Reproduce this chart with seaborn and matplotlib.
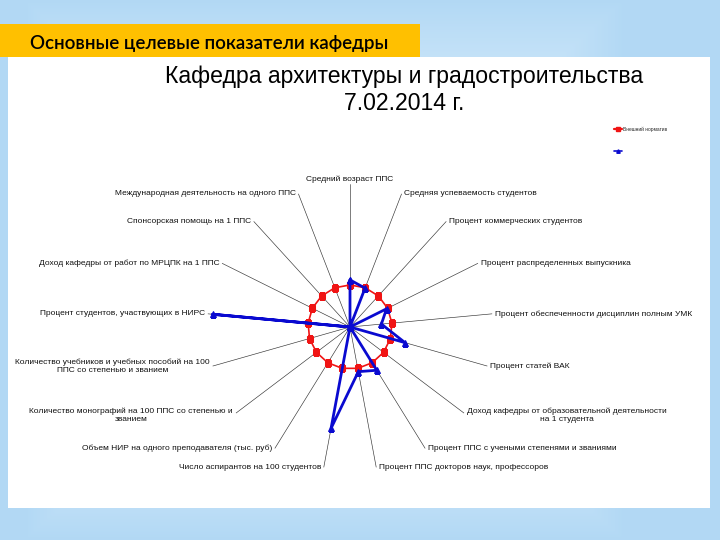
import numpy as np
import pandas as pd
import matplotlib
matplotlib.use("Agg")
import matplotlib.pyplot as plt
import seaborn as sns
from matplotlib.patches import Rectangle
from matplotlib.lines import Line2D

sns.set_theme(style="white")
plt.rcParams['font.family'] = ['Liberation Sans', 'DejaVu Sans']

# ---------------- data ----------------
categories = [
    "Средний возраст ППС",
    "Средняя успеваемость студентов",
    "Процент коммерческих студентов",
    "Процент распределенных выпускника",
    "Процент обеспеченности дисциплин полным УМК",
    "Процент статей ВАК",
    "Доход кафедры от образовательной деятельности\nна 1 студента",
    "Процент ППС с учеными степенями и званиями",
    "Процент ППС докторов наук, профессоров",
    "Число аспирантов на 100 студентов",
    "Объем НИР на одного преподавателя (тыс. руб)",
    "Количество монографий на 100 ППС со степенью и\nзванием",
    "Количество учебников и учебных пособий на 100\nППС со степенью и званием",
    "Процент студентов, участвующих в НИРС",
    "Доход кафедры от работ по МРЦПК на 1 ППС",
    "Спонсорская помощь на 1 ППС",
    "Международная деятельность на одного ППС",
]
norm_values = [1.0] * 17
dept_values = [1.12, 0.99, 0.0, 0.97, 0.75, 1.36, 0.0, 1.21, 1.08, 2.45,
               0.0, 0.0, 0.0, 3.28, 0.0, 0.0, 0.0]
series_names = ["Внешний норматив", " "]
title_line1 = "Кафедра архитектуры и градостроительства"
title_line2 = "7.02.2014 г."
header = "Основные целевые показатели кафедры"

# ---------------- figure / slide ----------------
fig = plt.figure(figsize=(7.2, 5.4), dpi=100)

# background gradient
bg = fig.add_axes([0, 0, 1, 1], zorder=-10)
yy, xx = np.mgrid[0:1:200j, 0:1:200j]
val = np.clip(np.maximum(np.abs(xx - 0.45) * 1.2, np.abs(yy - 0.5)) * 2, 0, 1) ** 2
c_in = np.array([0.88, 0.945, 0.99])
c_out = np.array([0.70, 0.85, 0.96])
img = c_in[None, None, :] * (1 - val[..., None]) + c_out[None, None, :] * val[..., None]
bg.imshow(img, extent=[0, 1, 0, 1], aspect='auto', origin='upper')
bg.set_axis_off()

W, H = 720, 540
def fx(px):
    return px / W
def fy(py):
    return 1 - py / H

fig.patches.append(Rectangle((fx(8), fy(508)), fx(710) - fx(8), fy(57) - fy(508),
                             transform=fig.transFigure, facecolor='white',
                             edgecolor='none', zorder=-5))
fig.patches.append(Rectangle((0, fy(57)), fx(420), fy(24) - fy(57),
                             transform=fig.transFigure, facecolor='#FFC000',
                             edgecolor='none', zorder=-4))
fig.text(fx(30), fy(43), header, family=['Lato', 'DejaVu Sans'], weight='semibold',
         fontsize=13.5, color='black', ha='left', va='center')

fig.text(fx(404), fy(77), title_line1, fontsize=16.6, ha='center', va='center', color='black')
fig.text(fx(404), fy(103), title_line2, fontsize=16.6, ha='center', va='center', color='black')

# ---------------- radar ----------------
cx, cy, R = 350, 327, 143
rmax = 3.40
ax = fig.add_axes([fx(cx - R), fy(cy + R), 2 * R / W, 2 * R / H], projection='polar')
ax.set_facecolor('none')
ax.set_theta_zero_location('N')
ax.set_theta_direction(-1)
ax.set_ylim(0, rmax)
ax.grid(False)
ax.spines['polar'].set_visible(False)
ax.set_xticks([])
ax.set_yticks([])

n = len(categories)
theta = np.linspace(0, 2 * np.pi, n, endpoint=False)

# spokes
for t in theta:
    ax.plot([t, t], [0, rmax], color='#333333', lw=0.45, zorder=1)

# labels
for t, lab in zip(theta, categories):
    deg = np.degrees(t)
    multi = "\n" in lab
    if deg < 1:
        ha, va, off = 'center', 'bottom', (0, 1)
    elif deg < 179:
        ha, va, off = 'left', 'center', (2, 0)
    else:
        ha, va, off = 'right', 'center', (-2, 0)
    if multi and (100 < deg < 140 or 220 < deg < 250):
        va = 'top'
        off = (off[0], 4)
    ax.annotate(lab, xy=(t, rmax), xytext=off, textcoords='offset points',
                ha=ha, va=va, fontsize=6, multialignment='center',
                color='#111111', annotation_clip=False)

theta_c = np.append(theta, 2 * np.pi)
df = pd.DataFrame({
    'theta': np.concatenate([theta_c, theta_c]),
    'r': np.concatenate([norm_values + norm_values[:1], dept_values + dept_values[:1]]),
    'series': [series_names[0]] * (n + 1) + [series_names[1]] * (n + 1),
})

d_norm = df[df.series == series_names[0]]
d_dept = df[df.series == series_names[1]]
sns.lineplot(data=d_norm, x='theta', y='r', sort=False, estimator=None, ax=ax,
             color='#f01414', lw=1.2, marker='s', markersize=4.3,
             markeredgecolor='#f01414', zorder=3)
sns.lineplot(data=d_dept, x='theta', y='r', sort=False, estimator=None, ax=ax,
             color='#0a0ad0', lw=2.0, marker='^', markersize=5,
             markeredgecolor='#0a0ad0', zorder=4)
ax.set_xlabel('')
ax.set_ylabel('')
ax.set_ylim(0, rmax)

handles = [Line2D([], [], color='#f01414', lw=1.6, marker='s', markersize=3),
           Line2D([], [], color='#0a0ad0', lw=1.2, marker='^', markersize=2.5)]
fig.legend(handles, series_names, loc='upper left', bbox_to_anchor=(fx(610), fy(122)),
           fontsize=3.5, frameon=False, handlelength=1.6, labelspacing=3.5,
           handletextpad=0.2)

fig.savefig('out.png', dpi=100)
